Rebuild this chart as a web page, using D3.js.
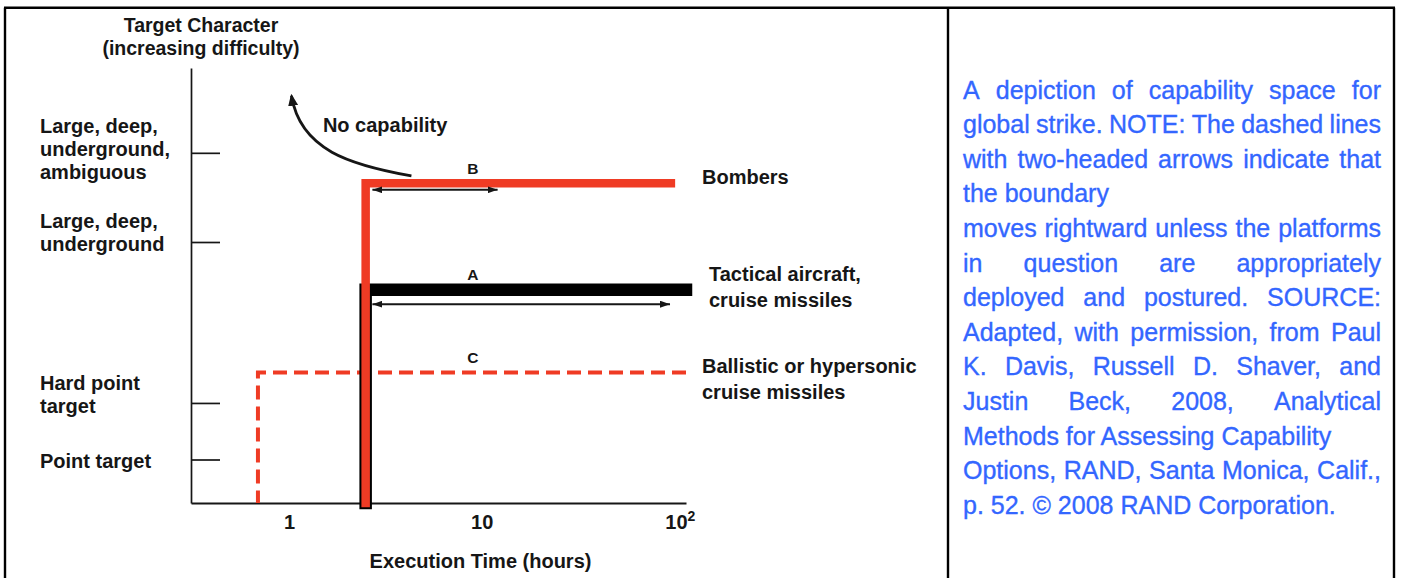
<!DOCTYPE html>
<html>
<head>
<meta charset="utf-8">
<script src="https://cdn.jsdelivr.net/npm/d3@7"></script>
<style>
  body { margin: 0; background: #fff; }
  svg { display: block; }
</style>
</head>
<body>
<svg id="chart" width="1406" height="578"></svg>
<script>
// ---------------- DATA ----------------
// Y axis: target character (increasing difficulty)
const yCategoryLines = [
  ["Point target"],
  ["Hard point", "target"],
  ["Large, deep,", "underground"],
  ["Large, deep,", "underground,", "ambiguous"]
];
const yCategoryValues = [1.0, 2.3, 6.0, 8.05];

// X axis: execution time (hours), log scale
const xDomain = [0.31, 115];
const xTickValues = [1, 10, 100];
const xTickLabels = ["1", "10", "10"];
const xTickSuper = ["", "", "2"];

// Platforms (capability boundaries)
const platformCodes = ["C", "A", "B"];
const platformNames = [
  ["Ballistic or hypersonic", "cruise missiles"],
  ["Tactical aircraft,", "cruise missiles"],
  ["Bombers"]
];
const platformMinTime = [0.69, 2.5, 2.5];     // hours
const platformLevel = [3.0, 4.9, 7.35];       // target difficulty reached
const platformMaxTime = [115, 115, 96];       // hours
const platformCodeTime = [9, 9, 9];

// Two-headed arrows (boundary moves rightward)
const arrowLevel = [7.2, 4.57];
const arrowFrom = [2.71, 2.71];
const arrowTo = [12.1, 95];

// "No capability" curved arrow (hours, difficulty)
const noCapCurve = [[4.32, 7.52], [2.08, 7.77], [1.147, 8.11], [1.03, 9.36]];
const noCapLabel = "No capability";
const noCapLabelPos = [1.50, 8.53];

const yTitle = ["Target Character", "(increasing difficulty)"];
const xTitle = "Execution Time (hours)";

const captionLines = [
  "A depiction of capability space for",
  "global strike. NOTE: The dashed lines",
  "with two-headed arrows indicate that",
  "the boundary",
  "moves rightward unless the platforms",
  "in question are appropriately",
  "deployed and postured. SOURCE:",
  "Adapted, with permission, from Paul",
  "K. Davis, Russell D. Shaver, and",
  "Justin Beck, 2008, Analytical",
  "Methods for Assessing Capability",
  "Options, RAND, Santa Monica, Calif.,",
  "p. 52. \u00A9 2008 RAND Corporation."
];
const captionJustify = [true, true, true, false, true, true, true, true, true, true, false, true, false];

// ---------------- DRAWING ----------------
const W = 1406, H = 578;
const INK = "#161616", RED = "#ef3b24", BLUE = "#3366ff";
const FONT = "'Liberation Sans', Arial, Helvetica, sans-serif";

const svg = d3.select("#chart");
svg.append("rect").attr("width", W).attr("height", H).attr("fill", "#fff");

// frame
const frame = svg.append("g").attr("stroke", "#000").attr("stroke-width", 2.4);
frame.append("line").attr("x1", 4).attr("x2", 1395).attr("y1", 7.7).attr("y2", 7.7);
frame.append("line").attr("x1", 5).attr("x2", 5).attr("y1", 7.7).attr("y2", 590);
frame.append("line").attr("x1", 1394).attr("x2", 1394).attr("y1", 7.7).attr("y2", 590);
frame.append("line").attr("x1", 948).attr("x2", 948).attr("y1", 7.7).attr("y2", 590);

const x = d3.scaleLog().domain(xDomain).range([191, 686]);
const y = d3.scaleLinear().domain([0, 10]).range([503, 68]);

const defs = svg.append("defs");
defs.append("marker").attr("id", "ah")
  .attr("viewBox", "0 0 10 7").attr("refX", 10).attr("refY", 3.5)
  .attr("markerWidth", 10).attr("markerHeight", 7)
  .attr("markerUnits", "userSpaceOnUse").attr("orient", "auto-start-reverse")
  .append("path").attr("d", "M0,0L10,3.5L0,7Z").attr("fill", INK);
defs.append("marker").attr("id", "ah2")
  .attr("viewBox", "0 0 12 10").attr("refX", 10).attr("refY", 5)
  .attr("markerWidth", 12).attr("markerHeight", 10)
  .attr("markerUnits", "userSpaceOnUse").attr("orient", "auto")
  .append("path").attr("d", "M0,0L12,5L0,10Z").attr("fill", INK);

// Y axis
const gy = svg.append("g").attr("transform", "translate(191,0)")
  .call(d3.axisRight(y).tickValues(yCategoryValues).tickSize(29).tickSizeOuter(0).tickFormat(""));
gy.select(".domain").attr("stroke", INK).attr("stroke-width", 1.7);
gy.selectAll(".tick line").attr("stroke", INK).attr("stroke-width", 1.7);

// Y category labels
const yLabelFirstOffset = [8, -13, -14, -20];
const yLabelLH = 23.3;
const yl = svg.append("g").attr("font-family", FONT).attr("font-weight", "bold")
  .attr("font-size", 20).attr("fill", INK);
yCategoryLines.forEach((lines, i) => {
  const t = yl.append("text").attr("x", 40).attr("y", y(yCategoryValues[i]) + yLabelFirstOffset[i]);
  lines.forEach((s, j) => t.append("tspan").attr("x", 40).attr("dy", j === 0 ? 0 : yLabelLH).text(s));
});

// Y title
const yt = svg.append("text").attr("font-family", FONT).attr("font-weight", "bold")
  .attr("font-size", 19.5).attr("fill", INK).attr("text-anchor", "middle");
yTitle.forEach((s, j) => yt.append("tspan").attr("x", 201).attr("y", 31.5 + j * 23.5).text(s));

// X axis
const gx = svg.append("g").attr("transform", "translate(0,503)")
  .call(d3.axisBottom(x).tickValues(xTickValues).tickSize(0).tickSizeOuter(0).tickPadding(12)
    .tickFormat((d, i) => xTickLabels[i]));
gx.select(".domain").attr("stroke", INK).attr("stroke-width", 2);
gx.selectAll(".tick text").attr("font-family", FONT).attr("font-weight", "bold")
  .attr("font-size", 20).attr("fill", INK)
  .each(function (d, i) {
    if (xTickSuper[i]) {
      d3.select(this).attr("text-anchor", "start").attr("dx", -9.5);
      d3.select(this).append("tspan").attr("dy", -8).attr("font-size", 14).text(xTickSuper[i]);
    }
  });
svg.append("text").attr("x", 480.5).attr("y", 568).attr("text-anchor", "middle")
  .attr("font-family", FONT).attr("font-weight", "bold").attr("font-size", 20)
  .attr("fill", INK).text(xTitle);

// Platform boundaries
const line = d3.line().x(d => x(d[0])).y(d => y(d[1]));
const pStyle = [
  { stroke: RED, width: 4, dash: "14,7", cap: "butt" },
  { stroke: "#000", width: 12.5, dash: null, cap: "square" },
  { stroke: RED, width: 8.5, dash: null, cap: "square" }
];
platformCodes.forEach((c, i) => {
  const pts = [[platformMaxTime[i], platformLevel[i]], [platformMinTime[i], platformLevel[i]], [platformMinTime[i], 0]];
  svg.append("path").attr("d", line(pts)).attr("fill", "none")
    .attr("stroke", pStyle[i].stroke).attr("stroke-width", pStyle[i].width)
    .attr("stroke-dasharray", pStyle[i].dash).attr("stroke-linecap", pStyle[i].cap)
    .attr("stroke-linejoin", "miter");
});

// Two-headed arrows
arrowLevel.forEach((lv, i) => {
  svg.append("line")
    .attr("x1", x(arrowFrom[i])).attr("x2", x(arrowTo[i]))
    .attr("y1", y(lv)).attr("y2", y(lv))
    .attr("stroke", INK).attr("stroke-width", 2)
    .attr("marker-start", "url(#ah)").attr("marker-end", "url(#ah)");
});

// Platform code letters
platformCodes.forEach((c, i) => {
  svg.append("text").attr("x", x(platformCodeTime[i])).attr("y", y(platformLevel[i]) - 9.5)
    .attr("text-anchor", "middle").attr("font-family", FONT).attr("font-weight", "bold")
    .attr("font-size", 15.5).attr("fill", INK).text(c);
});

// Platform names
const nameX = [702, 709, 702];
const nameFirstOffset = [0.7, -8.8, 0.5];
platformNames.forEach((lines, i) => {
  const t = svg.append("text").attr("font-family", FONT).attr("font-weight", "bold")
    .attr("font-size", 20).attr("fill", INK);
  lines.forEach((s, j) => t.append("tspan").attr("x", nameX[i])
    .attr("y", y(platformLevel[i]) + nameFirstOffset[i] + j * 25.5).text(s));
});

// No capability curve
const p = d3.path();
const cp = noCapCurve.map(d => [x(d[0]), y(d[1])]);
p.moveTo(cp[0][0], cp[0][1]);
p.bezierCurveTo(cp[1][0], cp[1][1], cp[2][0], cp[2][1], cp[3][0], cp[3][1]);
svg.append("path").attr("d", p.toString()).attr("fill", "none")
  .attr("stroke", INK).attr("stroke-width", 2.8).attr("marker-end", "url(#ah2)");
svg.append("text").attr("x", x(noCapLabelPos[0])).attr("y", y(noCapLabelPos[1]))
  .attr("font-family", FONT).attr("font-weight", "bold").attr("font-size", 20)
  .attr("fill", INK).text(noCapLabel);

// Caption (justified)
const capX0 = 963, capX1 = 1381, capBase0 = 98.5, capLH = 34.6;
const cap = svg.append("g").attr("font-family", FONT).attr("font-size", 25)
  .attr("fill", BLUE).attr("stroke", BLUE).attr("stroke-width", 0.35);
captionLines.forEach((ln, i) => {
  const t = cap.append("text").attr("y", capBase0 + i * capLH);
  if (!captionJustify[i]) { t.attr("x", capX0).text(ln); return; }
  const words = ln.split(" ");
  const spans = words.map(w => t.append("tspan").text(w));
  const widths = spans.map(s => s.node().getComputedTextLength());
  const gap = (capX1 - capX0 - d3.sum(widths)) / (words.length - 1);
  let cx = capX0;
  spans.forEach((s, j) => { s.attr("x", cx); cx += widths[j] + gap; });
});
</script>
</body>
</html>
